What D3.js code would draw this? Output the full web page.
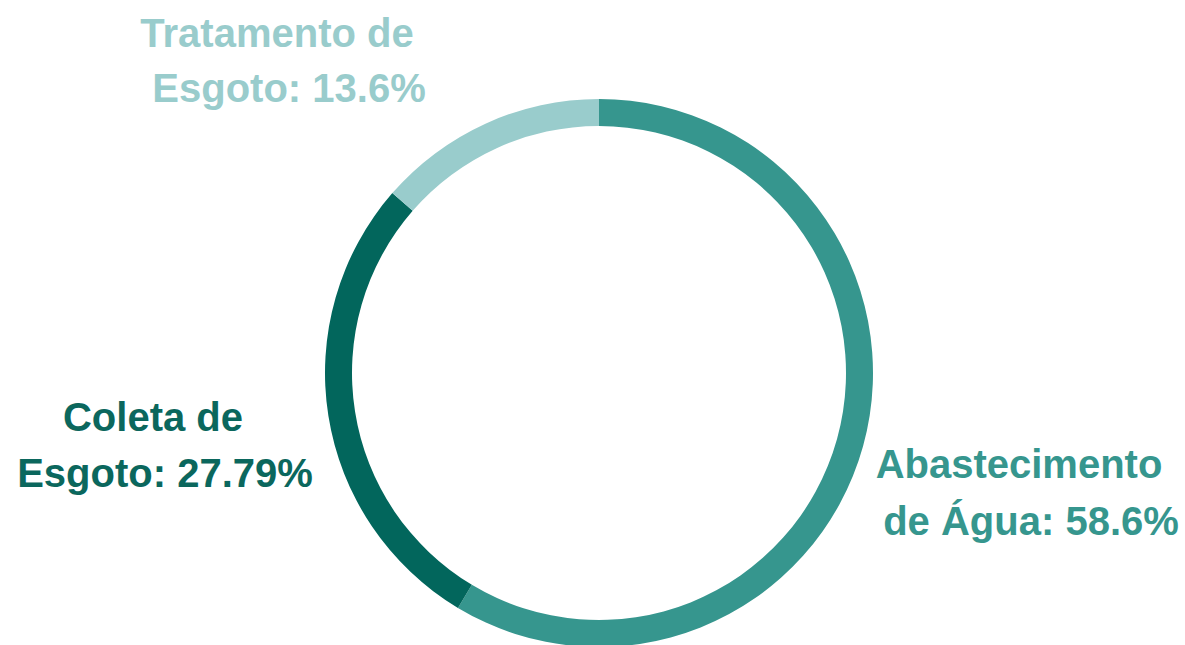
<!DOCTYPE html>
<html>
<head>
<meta charset="utf-8">
<script src="https://cdn.jsdelivr.net/npm/d3@7"></script>
<style>
  html, body { margin: 0; padding: 0; background: #ffffff; }
  svg { display: block; }
  text { font-family: "Liberation Sans", Arial, sans-serif; font-weight: bold; }
</style>
</head>
<body>
<svg id="chart" width="1185" height="645"></svg>
<script>
// Data
const categories = ["Abastecimento de Água", "Coleta de Esgoto", "Tratamento de Esgoto"];
const values = [58.6, 27.79, 13.6];
const valueLabels = ["58.6%", "27.79%", "13.6%"];
const labelLines = [
  ["Abastecimento", "de Água: 58.6%"],
  ["Coleta de", "Esgoto: 27.79%"],
  ["Tratamento de", "Esgoto: 13.6%"]
];
const colors = ["#36968E", "#02665C", "#99CCCC"];
const textColors = ["#36968E", "#0B675D", "#99CCCC"];

// Layout
const cx = 599, cy = 373, outerR = 274, innerR = 247;
const labelPos = [
  { lines: [{x: 1019, y: 478}, {x: 1031, y: 535}] },
  { lines: [{x: 153, y: 431}, {x: 165, y: 487}] },
  { lines: [{x: 277, y: 47}, {x: 289, y: 102}] }
];

const svg = d3.select("#chart");
const g = svg.append("g").attr("transform", `translate(${cx},${cy})`);

const pie = d3.pie().sort(null).value(d => d.v).startAngle(0).endAngle(2 * Math.PI);
const arc = d3.arc().innerRadius(innerR).outerRadius(outerR);

const data = categories.map((c, i) => ({ name: c, v: values[i], i }));

g.selectAll("path")
  .data(pie(data))
  .join("path")
  .attr("d", arc)
  .attr("fill", d => colors[d.data.i]);

const labels = svg.selectAll("g.label")
  .data(data)
  .join("g")
  .attr("class", "label");

labels.each(function(d) {
  const sel = d3.select(this);
  labelLines[d.i].forEach((line, k) => {
    const p = labelPos[d.i].lines[k];
    sel.append("text")
      .attr("x", p.x)
      .attr("y", p.y)
      .attr("text-anchor", "middle")
      .attr("font-size", 40)
      .attr("fill", textColors[d.i])
      .text(line);
  });
});
</script>
</body>
</html>
